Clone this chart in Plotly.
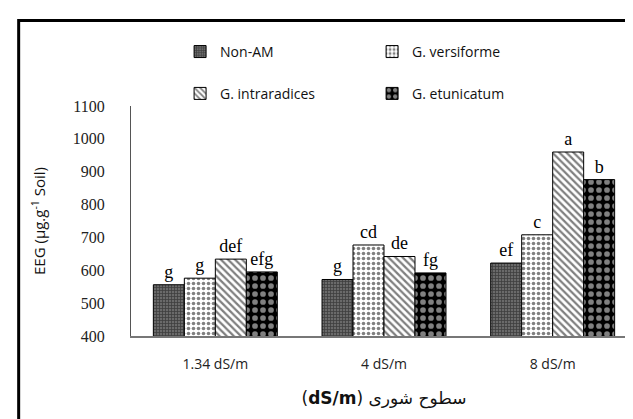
import plotly.graph_objects as go

categories = ["1.34 dS/m", "4 dS/m", "8 dS/m"]
series_names = ["Non-AM", "G. versiforme", "G. intraradices", "G. etunicatum"]
non_am = [556, 572, 622]
versiforme = [576, 677, 708]
intraradices = [634, 642, 960]
etunicatum = [595, 592, 876]
letters_non_am = ["g", "g", "ef"]
letters_versiforme = ["g", "cd", "c"]
letters_intraradices = ["def", "de", "a"]
letters_etunicatum = ["efg", "fg", "b"]
y_ticks = [400, 500, 600, 700, 800, 900, 1000, 1100]

values = [non_am, versiforme, intraradices, etunicatum]
letters = [letters_non_am, letters_versiforme, letters_intraradices, letters_etunicatum]
patterns = [
    dict(shape="+", fgcolor="#111111", bgcolor="#6a6a6a", size=3, solidity=0.45),
    dict(shape=".", fgcolor="#000000", bgcolor="#ffffff", size=5, solidity=0.4),
    dict(shape="\\", fgcolor="#000000", bgcolor="#ffffff", size=5, solidity=0.45),
    dict(shape=".", fgcolor="#ffffff", bgcolor="#000000", size=8, solidity=0.4),
]
legends = ["legend", "legend", "legend2", "legend2"]

fig = go.Figure()
for name, vals, lets, pat, lg in zip(series_names, values, letters, patterns, legends):
    fig.add_trace(go.Bar(
        name=name, x=categories, y=vals, text=lets,
        textposition="outside", cliponaxis=False,
        textfont=dict(family="Liberation Serif", size=18, color="black"),
        marker=dict(color="white", line=dict(color="black", width=1), pattern=pat),
        legend=lg,
    ))

legend_common = dict(
    orientation="h", xanchor="left", yanchor="middle",
    font=dict(family="Open Sans", size=14, color="#111"),
    entrywidth=147, entrywidthmode="pixels", bgcolor="rgba(0,0,0,0)",
    itemwidth=30,
)

fig.update_layout(
    width=633, height=419,
    margin=dict(l=123, r=4, t=98, b=91),
    paper_bgcolor="white", plot_bgcolor="white",
    barmode="group", bargap=0.265, bargroupgap=0,
    showlegend=True,
    legend=dict(x=0.097, y=1.235, **legend_common),
    legend2=dict(x=0.097, y=1.053, **legend_common),
    xaxis=dict(
        showline=True, linecolor="#777", linewidth=1.5, ticks="",
        tickfont=dict(family="Open Sans", size=14, color="#222"),
        ticklabelstandoff=14,
        title=dict(text="\u202bسطوح شوری (<b>dS/m</b>)\u202c",
                   font=dict(family="DejaVu Sans", size=17, color="#111"), standoff=21),
    ),
    yaxis=dict(
        range=[400, 1100], tickvals=y_ticks, showgrid=False, zeroline=False,
        showline=True, linecolor="#555", linewidth=1.2, ticks="",
        tickfont=dict(family="Liberation Serif", size=16, color="#222"),
        ticklabelstandoff=22,
        title=dict(text="EEG (µg.g<sup>-1</sup> Soil)",
                   font=dict(family="Open Sans", size=15, color="#111"), standoff=23),
    ),
    shapes=[dict(type="rect", xref="paper", yref="paper",
                 x0=-0.222, x1=1.5, y0=-1.0, y1=1.372,
                 line=dict(color="black", width=3), fillcolor="rgba(0,0,0,0)")],
)

fig.write_html("out.html")
